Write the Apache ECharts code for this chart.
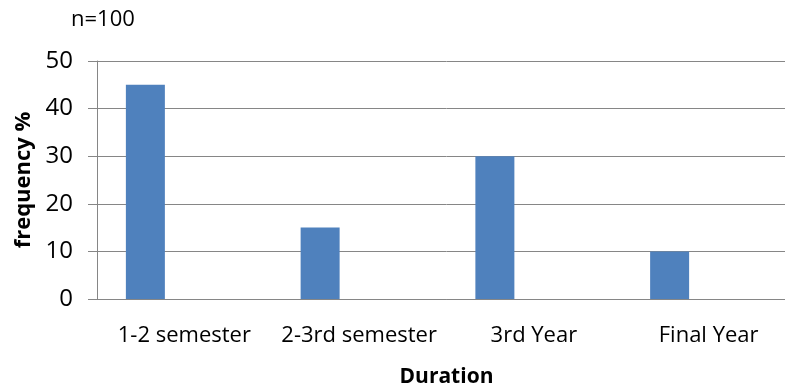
<!DOCTYPE html>
<html><head><meta charset="utf-8">
<script src="https://cdn.jsdelivr.net/npm/echarts@6/dist/echarts.min.js"></script>
<style>html,body{margin:0;padding:0;background:#fff;overflow:hidden;width:785px;height:389px}#c{width:800px;height:389px}</style>
</head><body><div id="c"></div>
<script>
const categories = ['1-2 semester', '2-3rd semester', '3rd Year', 'Final Year'];
const frequency = [45, 15, 30, 10];
const emptySeriesA = [null, null, null, null];
const emptySeriesB = [null, null, null, null];
const yTicks = [0, 10, 20, 30, 40, 50];

const FONT = 'Open Sans';
const chart = echarts.init(document.getElementById('c'), null, {renderer: 'canvas'});
chart.setOption({
  animation: false,
  backgroundColor: '#fff',
  graphic: [
    {type: 'text', left: 71, top: 9, style: {text: 'n=100', font: '22px ' + FONT, fill: '#000'}}
  ],
  grid: {left: 97, top: 61, width: 699, height: 238, containLabel: false, outerBoundsMode: 'none'},
  xAxis: {
    type: 'category',
    data: categories,
    name: 'Duration',
    nameLocation: 'middle',
    nameGap: 68,
    nameTextStyle: {fontFamily: FONT, fontWeight: 'bold', fontSize: 21, color: '#000'},
    axisLine: {lineStyle: {color: '#868686', width: 1}},
    axisTick: {show: false},
    axisLabel: {fontFamily: FONT, fontSize: 22, color: '#000', margin: 26, interval: 0}
  },
  yAxis: {
    type: 'value',
    min: yTicks[0], max: yTicks[yTicks.length - 1], interval: 10,
    name: 'frequency %',
    nameLocation: 'middle',
    nameGap: 62,
    nameRotate: 90,
    nameTextStyle: {fontFamily: FONT, fontWeight: 'bold', fontSize: 22, color: '#000'},
    axisLine: {show: true, lineStyle: {color: '#868686', width: 1}},
    axisTick: {show: true, length: 9, lineStyle: {color: '#868686'}},
    splitLine: {lineStyle: {color: '#868686', width: 1}},
    axisLabel: {fontFamily: FONT, fontSize: 24, color: '#000', margin: 24}
  },
  series: [
    {type: 'bar', data: frequency, barWidth: 39, barGap: '0%', itemStyle: {color: '#4F81BD'}},
    {type: 'bar', data: emptySeriesA, barWidth: 39, barGap: '0%', itemStyle: {color: '#C0504D'}},
    {type: 'bar', data: emptySeriesB, barWidth: 39, barGap: '0%', itemStyle: {color: '#9BBB59'}}
  ]
});
</script></body></html>
